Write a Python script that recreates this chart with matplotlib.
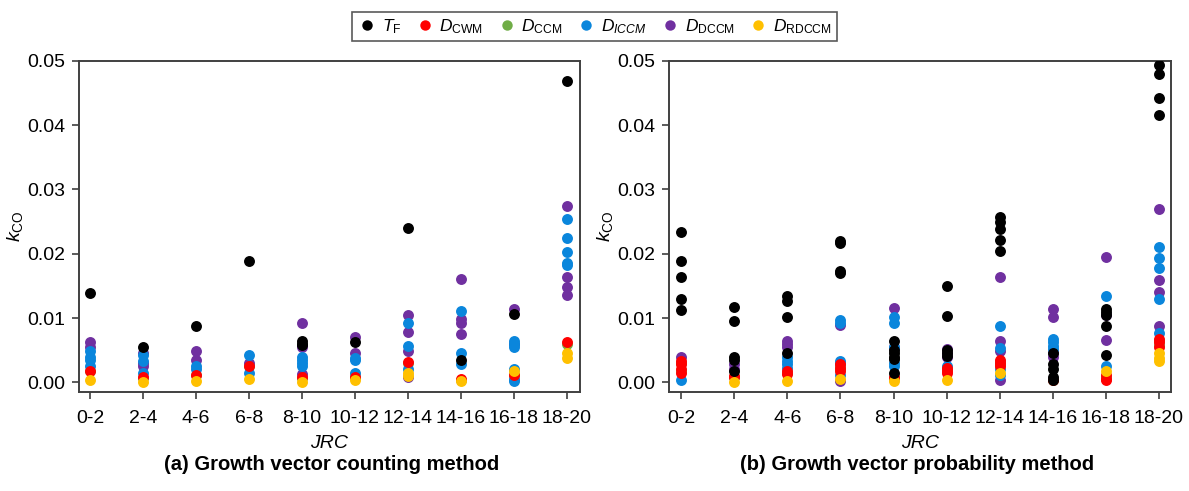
import numpy as np
import matplotlib
matplotlib.use("Agg")
import matplotlib.pyplot as plt
from matplotlib.lines import Line2D

# JRC classes on the x axis
jrc = ['0-2', '2-4', '4-6', '6-8', '8-10', '10-12', '12-14', '14-16', '16-18', '18-20']

# (a) growth vector counting method, one list per JRC class
a_tf = [[0.0139], [0.0055], [0.0088], [0.0188], [0.0065, 0.0060, 0.0058], [0.0062],
        [0.0240], [0.0035], [0.0107], [0.0469]]
a_cwm = [[0.0018], [0.0008], [0.0012], [0.0026], [0.0008], [0.0009],
         [0.0032], [0.0005], [0.0012], [0.0062]]
a_ccm = [[0.0017], [0.0007], [0.0011], [0.0025], [0.0007], [0.0008],
         [0.0030], [0.0004], [0.0011], [0.0060]]
a_iccm = [[0.0048, 0.0040, 0.0035, 0.0025], [0.0043, 0.0033, 0.0015], [0.0025, 0.0020],
          [0.0043, 0.0015], [0.0040, 0.0035, 0.0030, 0.0025], [0.0038, 0.0035, 0.0015],
          [0.0092, 0.0057, 0.0021], [0.0111, 0.0045, 0.0029],
          [0.0065, 0.0060, 0.0055, 0.0020, 0.0005, 0.0002],
          [0.0254, 0.0224, 0.0203, 0.0186, 0.0182]]
a_dccm = [[0.0063, 0.0055], [0.0045, 0.0030, 0.0025], [0.0049, 0.0035], [0.0030],
          [0.0092, 0.0055, 0.0013], [0.0071, 0.0045], [0.0105, 0.0079, 0.0048, 0.0008],
          [0.0160, 0.0098, 0.0093, 0.0075], [0.0114, 0.0060],
          [0.0274, 0.0163, 0.0148, 0.0136]]
a_rdccm = [[0.0003], [0.0001], [0.0002], [0.0005], [0.0001], [0.0004],
           [0.0015, 0.0010], [0.0002], [0.0017], [0.0046, 0.0038]]

# (b) growth vector probability method
b_tf = [[0.0233, 0.0189, 0.0163, 0.0130, 0.0113], [0.0117, 0.0096, 0.0040, 0.0035, 0.0017],
        [0.0135, 0.0127, 0.0102, 0.0046], [0.0220, 0.0217, 0.0173, 0.0170],
        [0.0064, 0.0050, 0.0045, 0.0040, 0.0036, 0.0015], [0.0150, 0.0103, 0.0050, 0.0045, 0.0041],
        [0.0257, 0.0250, 0.0238, 0.0221, 0.0204], [0.0046, 0.0028, 0.0020, 0.0008, 0.0003],
        [0.0114, 0.0110, 0.0105, 0.0088, 0.0043], [0.0493, 0.0480, 0.0442, 0.0415]]
b_cwm = [[0.0033, 0.0028, 0.0020, 0.0015], [0.0010, 0.0008], [0.0018, 0.0013],
         [0.0028, 0.0023, 0.0018], [0.0008], [0.0022, 0.0018, 0.0015],
         [0.0035, 0.0030, 0.0025], [0.0003], [0.0012, 0.0005, 0.0003],
         [0.0067, 0.0062, 0.0055]]
b_ccm = [[0.0030, 0.0018], [0.0009], [0.0015], [0.0025, 0.0020], [0.0007], [0.0020],
         [0.0032, 0.0027], [0.0003], [0.0008], [0.0064, 0.0058]]
b_iccm = [[0.0003], [], [0.0040, 0.0033, 0.0028, 0.0023], [0.0097, 0.0093, 0.0033, 0.0030, 0.0012],
          [0.0102, 0.0092, 0.0055, 0.0030, 0.0025], [0.0025], [0.0087, 0.0053, 0.0020, 0.0012],
          [0.0068, 0.0063, 0.0057, 0.0052], [0.0135, 0.0025],
          [0.0211, 0.0194, 0.0177, 0.0130, 0.0076]]
b_dccm = [[0.0039], [0.0028, 0.0020], [0.0065, 0.0060, 0.0055], [0.0089, 0.0002],
          [0.0115, 0.0055], [0.0052, 0.0045, 0.0040], [0.0164, 0.0065, 0.0048, 0.0003],
          [0.0114, 0.0102, 0.0045, 0.0040], [0.0195, 0.0105, 0.0066],
          [0.0270, 0.0159, 0.0141, 0.0088]]
b_rdccm = [[], [0.0001], [0.0002], [0.0005], [0.0002], [0.0003], [0.0015], [],
           [0.0017], [0.0045, 0.0038, 0.0033]]

colors = {'tf': '#000000', 'cwm': '#ff0000', 'ccm': '#70ad47',
          'iccm': '#0a86dc', 'dccm': '#7030a0', 'rdccm': '#ffc000'}
labels = {'tf': r'$T_{\mathrm{F}}$', 'cwm': r'$D_{\mathrm{CWM}}$', 'ccm': r'$D_{\mathrm{CCM}}$',
          'iccm': r'$D_{ICCM}$', 'dccm': r'$D_{\mathrm{DCCM}}$', 'rdccm': r'$D_{\mathrm{RDCCM}}$'}
draw_order = ['ccm', 'dccm', 'iccm', 'cwm', 'rdccm', 'tf']
legend_order = ['tf', 'cwm', 'ccm', 'iccm', 'dccm', 'rdccm']

plt.rcParams['font.family'] = ['Liberation Sans', 'DejaVu Sans']
plt.rcParams['mathtext.fontset'] = 'custom'
plt.rcParams['mathtext.rm'] = 'Liberation Sans'
plt.rcParams['mathtext.it'] = 'Liberation Sans:italic'

fig = plt.figure(figsize=(11.89, 4.91), dpi=100)
ax_a = fig.add_axes([0.0664, 0.2016, 0.4214, 0.6748])
ax_b = fig.add_axes([0.5627, 0.2016, 0.4222, 0.6748])


def scatter_panel(ax, series, xlim):
    for key in draw_order:
        groups = series[key]
        xs = np.concatenate([[i] * len(g) for i, g in enumerate(groups)])
        ys = np.concatenate([g for g in groups])
        ax.scatter(xs, ys, s=62, color=colors[key], linewidths=0, zorder=3)
    ax.set_xlim(*xlim)
    ax.set_ylim(-0.0015, 0.05)
    ax.set_xticks(range(len(jrc)))
    ax.set_xticklabels(jrc)
    ax.set_yticks([0, 0.01, 0.02, 0.03, 0.04, 0.05])
    ax.set_yticklabels(['0.00', '0.01', '0.02', '0.03', '0.04', '0.05'])
    ax.tick_params(labelsize=14, direction='out', length=5, width=1.2,
                   color='#404040', pad=5)
    ax.tick_params(axis='x', pad=8)
    for sp in ax.spines.values():
        sp.set_color('#404040')
        sp.set_linewidth(1.4)
    ax.set_xlabel('JRC', fontsize=14, style='italic', labelpad=6)
    ax.set_ylabel(r'$k_{\mathrm{CO}}$', fontsize=14)
    ax.yaxis.set_label_coords(-0.108, 0.5)


scatter_panel(ax_a, {'tf': a_tf, 'cwm': a_cwm, 'ccm': a_ccm, 'iccm': a_iccm,
                     'dccm': a_dccm, 'rdccm': a_rdccm}, (-0.21, 9.25))
scatter_panel(ax_b, {'tf': b_tf, 'cwm': b_cwm, 'ccm': b_ccm, 'iccm': b_iccm,
                     'dccm': b_dccm, 'rdccm': b_rdccm}, (-0.23, 9.23))

fig.text(0.279, 0.054, '(a) Growth vector counting method', ha='center', va='center',
         fontsize=14.5, fontweight='bold')
fig.text(0.771, 0.054, '(b) Growth vector probability method', ha='center', va='center',
         fontsize=14.5, fontweight='bold')

handles = [Line2D([], [], ls='none', marker='o', ms=7.5, mec='none', color=colors[k])
           for k in legend_order]
leg = fig.legend(handles, [labels[k] for k in legend_order],
                 loc='center', bbox_to_anchor=(0.5, 0.946), ncol=6, fontsize=12.5,
                 frameon=True, fancybox=False, edgecolor='#303030',
                 handletextpad=0.3, columnspacing=0.8, handlelength=1.1,
                 borderpad=0.3)
leg.get_frame().set_linewidth(1.2)

fig.savefig('out.png', dpi=100)
